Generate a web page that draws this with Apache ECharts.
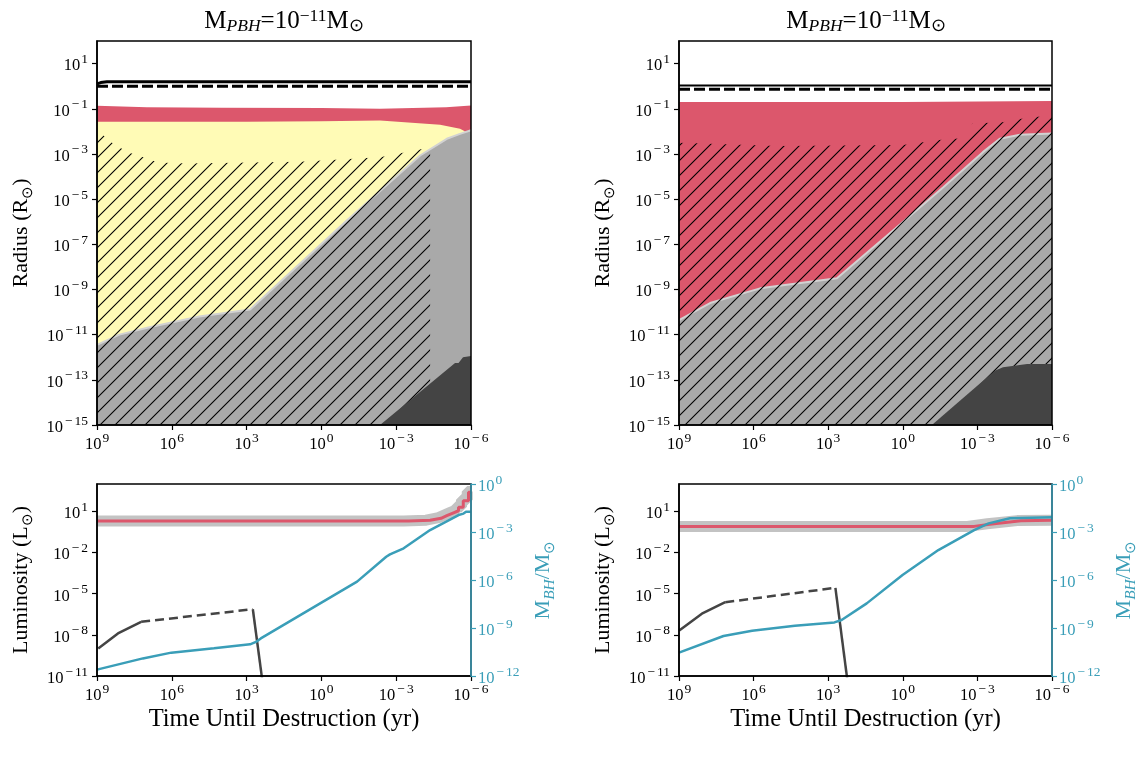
<!DOCTYPE html>
<html>
<head>
<meta charset="utf-8">
<script src="https://cdn.jsdelivr.net/npm/echarts@6/dist/echarts.min.js"></script>
<style>
  html, body { margin: 0; padding: 0; background: #fff; }
  #chart { width: 1142px; height: 758px; }
</style>
</head>
<body>
<div id="chart"></div>
<script>
// every value below is a log10 exponent
// t = time until destruction (yr), R = radius (Rsun), L = luminosity (Lsun), M = BH mass (Msun)

// axis ticks (exponents)
const timeTicks = [9, 6, 3, 0, -3, -6]
const radiusTicks = [1, -1, -3, -5, -7, -9, -11, -13, -15]
const lumTicks = [1, -2, -5, -8, -11]
const massTicks = [0, -3, -6, -9, -12]

// ---- top left ----
const tlRedT = [9, 7, 4, 0, -2.35, -5, -6]
const tlRedR = [-0.87, -0.93, -0.96, -0.97, -1.0, -0.93, -0.86]
const tlYellowT = [9, 6, 3, 0, -2.35, -4.76, -5.56, -5.75]
const tlYellowR = [-1.58, -1.58, -1.57, -1.55, -1.52, -1.71, -1.89, -2.0]
const tlGrayT = [9, 8.1, 6.9, 4.9, 2.86, -1.03, -3.96, -5.03, -5.56, -6]
const tlGrayR = [-11.45, -11.0, -10.67, -10.2, -9.89, -5.94, -3.07, -2.33, -2.11, -1.95]
const tlHatchT = [9, 8.88, 8.36, 7.76, 7.15, 6.55, 5.39, 0.86, -2.35, -4.36]
const tlHatchR = [-1.9, -2.05, -2.54, -2.93, -3.15, -3.38, -3.42, -3.35, -3.15, -2.71]
const tlDarkT = [-2.35, -5.36, -5.5, -5.68, -6]
const tlDarkR = [-15, -12.26, -12.26, -12.0, -11.95]
const tlSurfT = [9, 8.85, 8.6, -6]
const tlSurfR = [0.1, 0.16, 0.2, 0.2]
const tlShellT = [9, -6]
const tlShellR = [0.0, 0.0]

// ---- top right ----
const trRedT = [9, 0, -6]
const trRedR = [-0.7, -0.7, -0.66]
const trGrayT = [9, 7.75, 5.74, 2.65, 0.3, -1.63, -3.22, -3.9, -4.71, -6]
const trGrayR = [-10.36, -9.6, -8.95, -8.5, -6.3, -4.47, -2.92, -2.33, -2.15, -2.1]
const trHatchT = [9, 5, 0, -1.7, -2.5, -2.8, -4, -5, -6]
const trHatchR = [-2.5, -2.65, -2.6, -2.35, -2.3, -1.65, -1.6, -1.4, -1.3]
const trDarkT = [-1.17, -3.38, -3.7, -4.03, -5.0, -6]
const trDarkR = [-15, -12.9, -12.6, -12.44, -12.3, -12.3]
const trSurfT = [9, -6]
const trSurfR = [0.03, 0.03]
const trShellT = [9, -6]
const trShellR = [-0.14, -0.14]

// ---- bottom left ----
const blLumT = [9, -3.5, -4.36, -4.8, -5.03, -5.3, -5.5, -5.5, -5.69, -5.69, -5.9, -5.9, -6]
const blLumL = [0.31, 0.31, 0.35, 0.5, 0.69, 0.9, 1.05, 1.3, 1.3, 1.78, 1.78, 2.4, 2.4]
const blBandT = [9, -3.3, -4.2, -4.7, -4.95, -5.2, -5.4, -5.4, -5.62, -5.62, -5.85, -5.85, -6]
const blBandL = [0.3, 0.3, 0.36, 0.55, 0.75, 0.95, 1.1, 1.35, 1.35, 1.85, 1.85, 2.45, 2.45]
const blMassT = [9, 7.16, 6.02, 4.31, 2.86, 2.6, 2.43, -1.43, -2.6, -2.75, -3.3, -4.36, -5.5, -5.7, -5.8, -6]
const blMassM = [-11.6, -10.9, -10.54, -10.27, -10.02, -9.85, -9.65, -6.1, -4.55, -4.4, -4.02, -2.88, -1.94, -1.85, -1.73, -1.73]
const blAccT1 = [8.95, 8.16, 7.23]
const blAccL1 = [-8.99, -7.9, -7.05]
const blAccT2 = [7.23, 2.75]
const blAccL2 = [-7.05, -6.13]
const blAccT3 = [2.75, 2.32]
const blAccL3 = [-6.13, -12]

// ---- bottom right ----
const brLumT = [9, -2.87, -3.5, -4.75, -6]
const brLumL = [-0.09, -0.09, 0.06, 0.32, 0.36]
const brBandT = [9, -2.6, -3.4, -4.6, -6]
const brBandL = [-0.09, -0.09, 0.1, 0.33, 0.36]
const brMassT = [9, 7.21, 6.06, 4.34, 2.75, 2.46, 1.45, 0.01, -1.43, -2.87, -3.45, -4.31, -6]
const brMassM = [-10.54, -9.5, -9.17, -8.86, -8.65, -8.5, -7.46, -5.69, -4.13, -2.88, -2.46, -2.14, -2.08]
const brAccT1 = [8.99, 8.08, 7.14]
const brAccL1 = [-7.68, -6.46, -5.62]
const brAccT2 = [7.14, 2.71]
const brAccL2 = [-5.62, -4.57]
const brAccT3 = [2.71, 2.18]
const brAccL3 = [-4.57, -12]

const SERIF = '"Liberation Serif", "Times New Roman", serif'
const TEAL = '#3a9eb8'
const RED = '#dc576c'
const YELLOW = '#fffbb6'
const GRAY = '#a9a9a9'
const DARK = '#444444'

function pts(ts, vs) {
  return ts.map((t, i) => [Math.pow(10, t), Math.pow(10, vs[i])])
}

// nudge edge ticks a hair inside the extent so they are not filtered out
function tickVals(exps, lo, hi) {
  return exps.map((n) => Math.pow(10, n) * (n === lo ? 1.000001 : n === hi ? 0.999999 : 1))
}

function powLabel(v) {
  const n = Math.round(Math.log10(v))
  return n < 0 ? '{b|10}{m|\u2212}{s|' + -n + '}' : '{b|10}{p|' + n + '}'
}

function labelRich(color) {
  const base = { fontFamily: SERIF, fontWeight: 'normal', color: color }
  return {
    b: Object.assign({ fontSize: 16.5, lineHeight: 22, verticalAlign: 'bottom' }, base),
    m: Object.assign({ fontSize: 13.5, lineHeight: 12, verticalAlign: 'top', padding: [0, 2, 0, 2] }, base),
    s: Object.assign({ fontSize: 13.5, lineHeight: 12, verticalAlign: 'top' }, base),
    p: Object.assign({ fontSize: 13.5, lineHeight: 12, verticalAlign: 'top', padding: [0, 0, 0, 1] }, base)
  }
}

function nameRich(color, size) {
  const base = { fontFamily: SERIF, fontWeight: 'normal', color: color }
  return {
    t: Object.assign({ fontSize: size, lineHeight: 28, verticalAlign: 'middle' }, base),
    i: Object.assign({ fontSize: size * 0.7, fontStyle: 'italic', lineHeight: 14, verticalAlign: 'bottom' }, base),
    d: Object.assign({ fontSize: size * 0.7, lineHeight: 14, verticalAlign: 'bottom' }, base),
    u: Object.assign({ fontSize: size * 0.7, lineHeight: 12, verticalAlign: 'top' }, base)
  }
}

function makeHatch() {
  const s = 15
  const c = document.createElement('canvas')
  c.width = s
  c.height = s
  const g = c.getContext('2d')
  g.strokeStyle = '#000'
  g.lineWidth = 1.1
  g.beginPath()
  g.moveTo(-2, s + 2)
  g.lineTo(s + 2, -2)
  g.moveTo(s - 2, s + 2)
  g.lineTo(s + 2, s - 2)
  g.moveTo(-2, 2)
  g.lineTo(2, -2)
  g.stroke()
  return c
}
const hatch = { image: makeHatch(), repeat: 'repeat' }

function timeAxis(gi, withName) {
  return {
    type: 'log',
    logBase: 10,
    gridIndex: gi,
    inverse: true,
    min: 1e-6,
    max: 1e9,
    z: 10,
    axisLine: { show: true, onZero: false, lineStyle: { color: '#000', width: 1.5 } },
    axisTick: { show: true, length: 5, lineStyle: { color: '#000', width: 1.2 }, customValues: tickVals(timeTicks, -6, 9) },
    axisLabel: { margin: 6, formatter: powLabel, customValues: tickVals(timeTicks, -6, 9), rich: labelRich('#000') },
    splitLine: { show: false },
    minorTick: { show: false },
    name: withName ? 'Time Until Destruction (yr)' : '',
    nameLocation: 'middle',
    nameGap: 31,
    nameTextStyle: { fontFamily: SERIF, fontWeight: 'normal', fontSize: 24.5, color: '#000' }
  }
}

function valAxis(gi, lo, hi, ticks, name, color, right) {
  return {
    type: 'log',
    logBase: 10,
    gridIndex: gi,
    position: right ? 'right' : 'left',
    min: Math.pow(10, lo),
    max: Math.pow(10, hi),
    z: right ? 11 : 10,
    axisLine: { show: true, onZero: false, lineStyle: { color: color, width: 1.5 } },
    axisTick: { show: true, length: 5, lineStyle: { color: color, width: 1.2 }, customValues: tickVals(ticks, lo, hi) },
    axisLabel: { margin: right ? 7 : 9, formatter: powLabel, customValues: tickVals(ticks, lo, hi), rich: labelRich(color) },
    splitLine: { show: false },
    minorTick: { show: false },
    name: name,
    nameLocation: 'middle',
    nameRotate: 90,
    nameGap: right ? 58 : 62,
    nameTextStyle: { rich: nameRich(color, 22) }
  }
}

function area(xi, yi, ts, vs, fill, z, edge) {
  return {
    type: 'line',
    xAxisIndex: xi,
    yAxisIndex: yi,
    data: pts(ts, vs),
    symbol: 'none',
    silent: true,
    z: z,
    lineStyle: edge ? { color: edge, width: 2 } : { width: 0, opacity: 0 },
    areaStyle: { color: fill, opacity: 1, origin: 'start' }
  }
}

function line(xi, yi, ts, vs, color, width, z, dash) {
  return {
    type: 'line',
    xAxisIndex: xi,
    yAxisIndex: yi,
    data: pts(ts, vs),
    symbol: 'none',
    silent: true,
    z: z,
    lineStyle: { color: color, width: width, type: dash || 'solid', cap: 'butt' }
  }
}

const titleText = '{t|M}{i|PBH}{t|=10}{u|\u221211}{t|M}{d|\u2299}'

const chart = echarts.init(document.getElementById('chart'))
const option = {
  backgroundColor: '#fff',
  animation: false,
  title: [
    { text: titleText, left: 284, top: 7, textAlign: 'center', padding: 0, textStyle: { fontWeight: 'normal', rich: nameRich('#000', 25) } },
    { text: titleText, left: 866, top: 7, textAlign: 'center', padding: 0, textStyle: { fontWeight: 'normal', rich: nameRich('#000', 25) } }
  ],
  grid: [
    { left: 97, top: 41, width: 374, height: 384 },
    { left: 679, top: 41, width: 373, height: 384 },
    { left: 97, top: 484, width: 374, height: 192 },
    { left: 679, top: 484, width: 373, height: 192 }
  ].map((g) => Object.assign({ show: true, borderColor: '#000', borderWidth: 1.5, backgroundColor: 'transparent', z: 10, containLabel: false, outerBoundsMode: 'none' }, g)),
  xAxis: [timeAxis(0, false), timeAxis(1, false), timeAxis(2, true), timeAxis(3, true)],
  yAxis: [
    valAxis(0, -15, 2, radiusTicks, '{t|Radius (R}{d|\u2299}{t|)}', '#000', false),
    valAxis(1, -15, 2, radiusTicks, '{t|Radius (R}{d|\u2299}{t|)}', '#000', false),
    valAxis(2, -11, 3, lumTicks, '{t|Luminosity (L}{d|\u2299}{t|)}', '#000', false),
    valAxis(2, -12, 0, massTicks, '{t|M}{i|BH}{t|/M}{d|\u2299}', TEAL, true),
    valAxis(3, -11, 3, lumTicks, '{t|Luminosity (L}{d|\u2299}{t|)}', '#000', false),
    valAxis(3, -12, 0, massTicks, '{t|M}{i|BH}{t|/M}{d|\u2299}', TEAL, true)
  ],
  series: [
    // top left
    area(0, 0, tlRedT, tlRedR, RED, 2),
    area(0, 0, tlYellowT, tlYellowR, YELLOW, 3),
    area(0, 0, tlGrayT, tlGrayR, GRAY, 4, '#d2d2d2'),
    area(0, 0, tlHatchT, tlHatchR, hatch, 5),
    area(0, 0, tlDarkT, tlDarkR, DARK, 6),
    line(0, 0, tlSurfT, tlSurfR, '#000', 3, 7),
    line(0, 0, tlShellT, tlShellR, '#000', 3, 7, [11, 4]),
    // top right
    area(1, 1, trRedT, trRedR, RED, 2),
    area(1, 1, trGrayT, trGrayR, GRAY, 4, '#d2d2d2'),
    area(1, 1, trHatchT, trHatchR, hatch, 5),
    area(1, 1, trDarkT, trDarkR, DARK, 6),
    line(1, 1, trSurfT, trSurfR, '#000', 2, 7),
    line(1, 1, trShellT, trShellR, '#000', 3, 7, [11, 4]),
    // bottom left
    line(2, 2, blBandT, blBandL, 'rgba(175,175,175,0.75)', 11, 2),
    line(2, 2, blLumT, blLumL, RED, 3, 3),
    line(2, 2, blAccT1, blAccL1, DARK, 2.5, 4),
    line(2, 2, blAccT2, blAccL2, DARK, 2.5, 4, [9, 5]),
    line(2, 2, blAccT3, blAccL3, DARK, 2.5, 4),
    line(2, 3, blMassT, blMassM, TEAL, 2.5, 5),
    // bottom right
    line(3, 4, brBandT, brBandL, 'rgba(175,175,175,0.75)', 11, 2),
    line(3, 4, brLumT, brLumL, RED, 3, 3),
    line(3, 4, brAccT1, brAccL1, DARK, 2.5, 4),
    line(3, 4, brAccT2, brAccL2, DARK, 2.5, 4, [9, 5]),
    line(3, 4, brAccT3, brAccL3, DARK, 2.5, 4),
    line(3, 5, brMassT, brMassM, TEAL, 2.5, 5)
  ]
}
chart.setOption(option)
</script>
</body>
</html>
